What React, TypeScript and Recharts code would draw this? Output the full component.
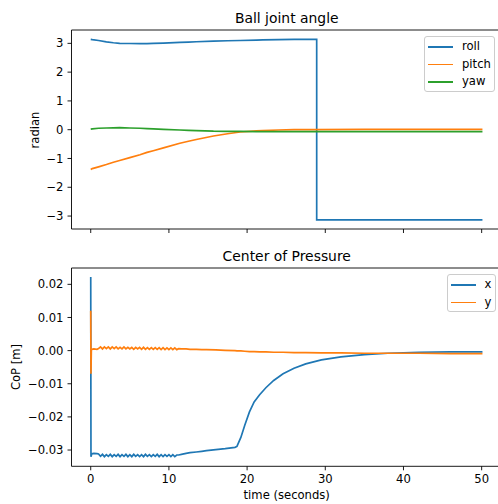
import { LineChart, Line, XAxis, YAxis, ReferenceLine } from 'recharts';

const FONT = 'DejaVu Sans, Verdana, sans-serif';
const BLUE = '#1f77b4';
const ORANGE = '#ff7f0e';
const GREEN = '#2ca02c';

// shared time axis ticks
const xTicks = [0, 10, 20, 30, 40, 50];
const angleTicks = [-3, -2, -1, 0, 1, 2, 3];
const copTicks = [-0.03, -0.02, -0.01, 0, 0.01, 0.02];

// ball joint angle (radian)
const angleTime = [0, 0.2, 1, 2, 2.9, 3.7, 5, 6.3, 7.2, 8, 9.3, 11.4, 12.5, 13.5, 15.7, 17.5, 19.1, 21.2, 22, 24, 26, 28.9, 28.9, 35, 42, 50.1];
const roll = [3.14, 3.13, 3.1, 3.05, 3.02, 3.0, 2.995, 2.99, 2.99, 3.0, 3.01, 3.035, 3.045, 3.055, 3.075, 3.09, 3.1, 3.115, 3.12, 3.13, 3.135, 3.14, -3.13, -3.13, -3.13, -3.13];
const pitch = [-1.38, -1.35, -1.29, -1.21, -1.13, -1.07, -0.97, -0.87, -0.79, -0.73, -0.63, -0.47, -0.4, -0.34, -0.22, -0.14, -0.08, -0.04, -0.03, -0.01, 0.0, 0.005, 0.005, 0.01, 0.01, 0.01];
const yaw = [0.02, 0.03, 0.05, 0.06, 0.065, 0.07, 0.06, 0.05, 0.04, 0.03, 0.01, -0.01, -0.02, -0.03, -0.05, -0.055, -0.06, -0.065, -0.065, -0.07, -0.07, -0.07, -0.07, -0.07, -0.07, -0.07];

// center of pressure (m)
const copTime = [
  0, 0.03, 0.08, 0.15, 0.4, 0.8, 1.0,
  1.25, 1.5, 1.75, 2, 2.25, 2.5, 2.75, 3, 3.25, 3.5, 3.75, 4, 4.25, 4.5, 4.75, 5, 5.25, 5.5, 5.75, 6,
  6.25, 6.5, 6.75, 7, 7.25, 7.5, 7.75, 8, 8.25, 8.5, 8.75, 9, 9.25, 9.5, 9.75, 10, 10.25, 10.5, 10.75, 11,
  11.25, 11.6, 12.2, 12.7, 13.5, 14.2, 14.8, 16, 17.2, 18.45, 18.7, 19.2, 19.7, 20.3, 20.9, 21.6, 22.4,
  23.4, 24.6, 26, 27.5, 29.5, 32, 35, 38, 42, 46, 50.1,
];
const copX = [
  0.0222, -0.032, -0.0316, -0.0311, -0.031, -0.0311, -0.0312,
  -0.0319, -0.0313, -0.0320, -0.0314, -0.0319, -0.0313, -0.0320, -0.0314, -0.0319, -0.0313, -0.0320, -0.0314, -0.0319, -0.0313, -0.0320, -0.0314, -0.0320, -0.0313, -0.0319, -0.0314,
  -0.0320, -0.0314, -0.0320, -0.0313, -0.0319, -0.0314, -0.0320, -0.0314, -0.0319, -0.0313, -0.0320, -0.0314, -0.0320, -0.0314, -0.0319, -0.0314, -0.0320, -0.0314, -0.0320, -0.0315,
  -0.0315, -0.0313, -0.031, -0.0308, -0.0306, -0.0304, -0.0302, -0.0299, -0.0296, -0.0292, -0.0289, -0.0262, -0.0225, -0.0185, -0.0155, -0.0133, -0.0112,
  -0.009, -0.007, -0.0053, -0.004, -0.0028, -0.0019, -0.0012, -0.0008, -0.0005, -0.0004, -0.0004,
];
const copY = [
  0.012, -0.007, 0.0002, 0.0004, 0.0005, 0.0004, 0.0006,
  0.0011, 0.0005, 0.0011, 0.0006, 0.0011, 0.0005, 0.0011, 0.0006, 0.0011, 0.0005, 0.0010, 0.0005, 0.0011, 0.0005, 0.0010, 0.0005, 0.0010, 0.0004, 0.0010, 0.0005,
  0.0010, 0.0004, 0.0010, 0.0004, 0.0009, 0.0004, 0.0009, 0.0004, 0.0009, 0.0004, 0.0009, 0.0003, 0.0009, 0.0003, 0.0008, 0.0003, 0.0008, 0.0003, 0.0008, 0.0003,
  0.0006, 0.0005, 0.0005, 0.0004, 0.0004, 0.0003, 0.0003, 0.0002, 0.0001, 0.0, -0.0001, -0.0001, -0.0002, -0.0003, -0.0003, -0.0004, -0.0004,
  -0.0005, -0.0005, -0.0006, -0.0006, -0.0007, -0.0007, -0.0008, -0.0008, -0.0008, -0.0009, -0.0009,
];

const zip = (ts: number[], vs: number[]) => ts.map((t, i) => ({ t, v: vs[i] }));

const X_DOMAIN: [number, number] = [-2.46, 52.6];
const ANGLE_DOMAIN: [number, number] = [-3.45, 3.464];
const COP_DOMAIN: [number, number] = [-0.03491, 0.02493];

const minus = (s: string) => s.replace('-', '\u2212');
const tickStyle = { fill: '#000', fontSize: 11.6, fontFamily: FONT };
const lineStyle = { stroke: '#000', strokeWidth: 0.9 };

function LegendBox({ left, top, width, items }: { left: number; top: number; width: number; items: { name: string; color: string }[] }) {
  return (
    <div
      style={{
        position: 'absolute',
        left,
        top,
        width,
        height: items.length * 17.7 + 3,
        border: '1px solid #cccccc',
        borderRadius: 3,
        background: 'rgba(255,255,255,0.8)',
        boxSizing: 'border-box',
        fontFamily: FONT,
        fontSize: 11.6,
      }}
    >
      {items.map((it, i) => (
        <div key={it.name} style={{ position: 'absolute', left: 0, top: 1 + i * 17.7, height: 17.7, width: '100%' }}>
          <div style={{ position: 'absolute', left: 3, top: 8, width: 25, height: 1.7, background: it.color }} />
          <span style={{ position: 'absolute', left: 37, top: 0, lineHeight: '17px', color: '#000' }}>{it.name}</span>
        </div>
      ))}
    </div>
  );
}

const textBase = { position: 'absolute' as const, fontFamily: FONT, color: '#000', whiteSpace: 'nowrap' as const };

export default function App() {
  return (
    <div style={{ position: 'absolute', left: 0, top: 0, width: 498, height: 504, overflow: 'hidden', background: '#fff' }}>
      <div style={{ ...textBase, left: 71.5, width: 430.5, top: 10, textAlign: 'center', fontSize: 13.9, lineHeight: '17px' }}>
        Ball joint angle
      </div>
      <div style={{ position: 'absolute', left: 0, top: 0 }}>
        <LineChart width={504} height={250} margin={{ top: 30, right: 2, bottom: 0, left: 0 }}>
          <XAxis
            dataKey="t"
            type="number"
            domain={X_DOMAIN}
            ticks={xTicks}
            allowDataOverflow
            interval={0}
            height={21}
            tickSize={4}
            tickFormatter={() => ''}
            tickLine={lineStyle}
            axisLine={lineStyle}
          />
          <YAxis
            type="number"
            domain={ANGLE_DOMAIN}
            ticks={angleTicks}
            allowDataOverflow
            interval={0}
            width={71.5}
            tickSize={4}
            tickMargin={4}
            tick={tickStyle}
            tickLine={lineStyle}
            axisLine={lineStyle}
            tickFormatter={(v: number) => minus(String(v))}
          />
          <ReferenceLine y={ANGLE_DOMAIN[1]} stroke="#000" strokeWidth={0.9} />
          <Line data={zip(angleTime, roll)} dataKey="v" stroke={BLUE} strokeWidth={1.7} dot={false} isAnimationActive={false} />
          <Line data={zip(angleTime, pitch)} dataKey="v" stroke={ORANGE} strokeWidth={1.7} dot={false} isAnimationActive={false} />
          <Line data={zip(angleTime, yaw)} dataKey="v" stroke={GREEN} strokeWidth={1.7} dot={false} isAnimationActive={false} />
        </LineChart>
      </div>
      <div style={{ ...textBase, left: 35, top: 129.5, fontSize: 11.6, lineHeight: '14px', transform: 'translate(-50%, -50%) rotate(-90deg)' }}>
        radian
      </div>
      <LegendBox
        left={424}
        top={36}
        width={71}
        items={[
          { name: 'roll', color: BLUE },
          { name: 'pitch', color: ORANGE },
          { name: 'yaw', color: GREEN },
        ]}
      />

      <div style={{ ...textBase, left: 71.5, width: 430.5, top: 247.5, textAlign: 'center', fontSize: 13.9, lineHeight: '17px' }}>
        Center of Pressure
      </div>
      <div style={{ position: 'absolute', left: 0, top: 240 }}>
        <LineChart width={504} height={264} margin={{ top: 28, right: 2, bottom: 0, left: 0 }}>
          <XAxis
            dataKey="t"
            type="number"
            domain={X_DOMAIN}
            ticks={xTicks}
            allowDataOverflow
            interval={0}
            height={37.7}
            tickSize={4}
            tickMargin={4}
            tick={tickStyle}
            tickLine={lineStyle}
            axisLine={lineStyle}
          />
          <YAxis
            type="number"
            domain={COP_DOMAIN}
            ticks={copTicks}
            allowDataOverflow
            interval={0}
            width={71.5}
            tickSize={4}
            tickMargin={4}
            tick={tickStyle}
            tickLine={lineStyle}
            axisLine={lineStyle}
            tickFormatter={(v: number) => minus(v.toFixed(2))}
          />
          <ReferenceLine y={COP_DOMAIN[1]} stroke="#000" strokeWidth={0.9} />
          <Line data={zip(copTime, copX)} dataKey="v" stroke={BLUE} strokeWidth={1.7} dot={false} isAnimationActive={false} />
          <Line data={zip(copTime, copY)} dataKey="v" stroke={ORANGE} strokeWidth={1.7} dot={false} isAnimationActive={false} />
        </LineChart>
      </div>
      <div style={{ ...textBase, left: 15.5, top: 367, fontSize: 11.6, lineHeight: '14px', transform: 'translate(-50%, -50%) rotate(-90deg)' }}>
        CoP [m]
      </div>
      <div style={{ ...textBase, left: 71.5, width: 430.5, top: 488, textAlign: 'center', fontSize: 11.6, lineHeight: '14px' }}>
        time (seconds)
      </div>
      <LegendBox
        left={446.5}
        top={274}
        width={49}
        items={[
          { name: 'x', color: BLUE },
          { name: 'y', color: ORANGE },
        ]}
      />
    </div>
  );
}
